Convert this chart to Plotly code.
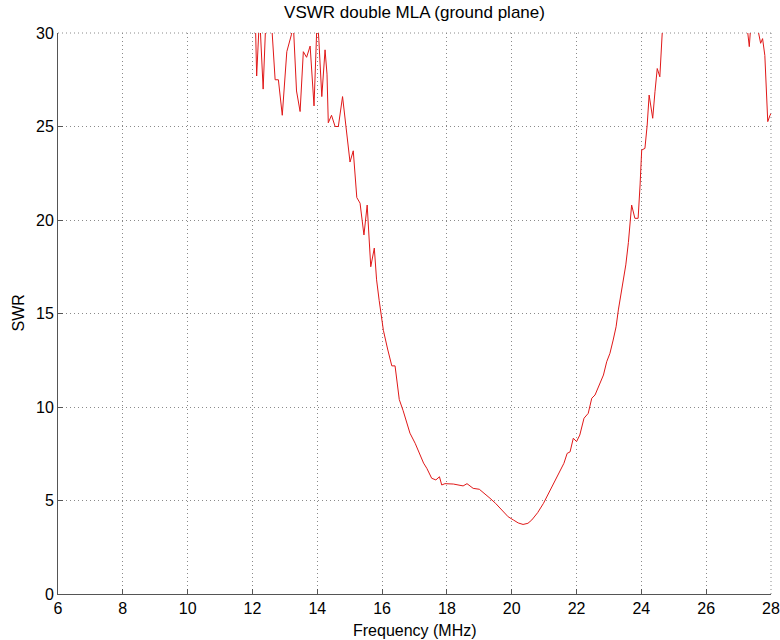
import plotly.graph_objects as go

freq_mhz = [11.9, 12.05, 12.13, 12.22, 12.33, 12.42, 12.5, 12.59, 12.7, 12.8,
            12.92, 13.06, 13.2, 13.26, 13.36, 13.47, 13.57, 13.67, 13.78, 13.9,
            13.96, 14.0, 14.05, 14.14, 14.24, 14.3, 14.34, 14.44, 14.55, 14.65,
            14.78, 14.89, 15.01, 15.11, 15.22, 15.32, 15.44, 15.54, 15.65, 15.76,
            15.83, 15.91, 15.96, 16.04, 16.17, 16.3, 16.4, 16.53, 16.65, 16.76,
            16.86, 17.02, 17.17, 17.28, 17.38, 17.53, 17.66, 17.77, 17.84, 17.94,
            18.2, 18.35, 18.5, 18.62, 18.81, 19.0, 19.15, 19.33, 19.5, 19.64,
            19.78, 19.89, 20.05, 20.2, 20.35, 20.5, 20.62, 20.8, 20.98, 21.13,
            21.28, 21.39, 21.49, 21.61, 21.71, 21.8, 21.9, 22.0, 22.1, 22.23,
            22.36, 22.47, 22.57, 22.72, 22.83, 22.93, 23.03, 23.13, 23.22, 23.29,
            23.34, 23.45, 23.52, 23.6, 23.65, 23.7, 23.8, 23.9, 23.96, 24.01,
            24.11, 24.18, 24.24, 24.35, 24.42, 24.49, 24.57, 24.63, 24.7, 24.8,
            25.5, 26.5, 27.22, 27.33, 27.4, 27.56, 27.68, 27.74, 27.81, 27.9,
            27.97, 28.0]
swr = [45, 33, 27.7, 31, 27.0, 31, 32, 30.5, 27.5, 27.5,
       25.6, 29.0, 29.9, 30.5, 26.9, 25.8, 29.0, 28.7, 29.3, 26.1,
       29.4, 31, 29.6, 26.6, 29.1, 27.8, 25.2, 25.6, 25.0, 25.0,
       26.6, 24.8, 23.1, 23.7, 21.2, 20.9, 19.2, 20.8, 17.5, 18.5,
       16.8, 15.7, 15.0, 14.1, 13.1, 12.2, 12.2, 10.4, 9.8, 9.1,
       8.6, 8.06, 7.43, 7.0, 6.72, 6.19, 6.1, 6.27, 5.83, 5.9,
       5.88, 5.82, 5.78, 5.9, 5.65, 5.6, 5.4, 5.12, 4.85, 4.58,
       4.35, 4.13, 3.96, 3.8, 3.72, 3.78, 3.96, 4.35, 4.85, 5.35,
       5.92, 6.3, 6.6, 6.99, 7.52, 7.6, 8.33, 8.15, 8.5, 9.4,
       9.66, 10.47, 10.64, 11.27, 11.71, 12.42, 12.87, 13.58, 14.29, 15.19,
       15.72, 17.0, 17.6, 18.8, 19.73, 20.8, 20.09, 20.09, 21.87, 23.74,
       23.83, 25.08, 26.68, 25.44, 26.86, 28.1, 27.66, 29.36, 31, 35,
       45, 40, 31, 29.27, 31, 30.5, 29.45, 29.7, 28.8, 25.26,
       25.6, 25.7]

x_ticks = list(range(6, 29, 2))
y_ticks = list(range(0, 31, 5))

W, H = 780, 640
ML, MR, MT, MB = 58, 9, 33, 46
plot_w = W - ML - MR
plot_h = H - MT - MB

GRID = "#8a8a8a"

fig = go.Figure()
fig.add_trace(go.Scatter(x=freq_mhz, y=swr, mode="lines",
                         line=dict(color="#e01818", width=1)))

# matlab-ish axes: box off, dotted grid, inward ticks
axis_style = dict(showline=True, linecolor="#555555", linewidth=1, mirror=False,
                  showgrid=True, gridcolor=GRID, griddash="1px,3px", gridwidth=1,
                  ticks="inside", ticklen=5, tickcolor="#555555",
                  zeroline=False, automargin=False,
                  tickfont=dict(size=16, color="black"))

fig.update_xaxes(range=[6, 28], tickvals=x_ticks, **axis_style)
fig.update_yaxes(range=[0, 30], tickvals=y_ticks, **axis_style)

# grid lines on the top and right edges (plotly skips them there)
fig.add_shape(type="line", xref="paper", yref="paper", x0=0, x1=1, y0=1, y1=1,
              line=dict(color=GRID, width=1, dash="1px,3px"), layer="below")
fig.add_shape(type="line", xref="paper", yref="paper", x0=1, x1=1, y0=0, y1=1,
              line=dict(color=GRID, width=1, dash="1px,3px"), layer="below")

# axis titles as annotations so they sit where matlab put them
fig.add_annotation(text="Frequency (MHz)", xref="paper", yref="paper",
                   x=0.5, y=-36 / plot_h, xanchor="center", yanchor="middle",
                   showarrow=False, font=dict(size=16, color="black"))
fig.add_annotation(text="SWR", xref="paper", yref="paper", textangle=-90,
                   x=-40 / plot_w, y=0.5, xanchor="center", yanchor="middle",
                   showarrow=False, font=dict(size=16, color="black"))

fig.update_layout(width=W, height=H,
                  title=dict(text="VSWR double MLA (ground plane)",
                             x=(ML + plot_w / 2) / W, xanchor="center",
                             yref="container", y=1 - 12 / H, yanchor="middle",
                             font=dict(size=17, color="black")),
                  font=dict(family="Liberation Sans, Arial, sans-serif"),
                  plot_bgcolor="white", paper_bgcolor="white",
                  showlegend=False,
                  margin=dict(l=ML, r=MR, t=MT, b=MB, autoexpand=False))

# drop the default 8px body margin so the figure fills the window exactly
fig.write_html("out.html", config={"displayModeBar": False},
               post_script="document.body.style.margin='0';")
